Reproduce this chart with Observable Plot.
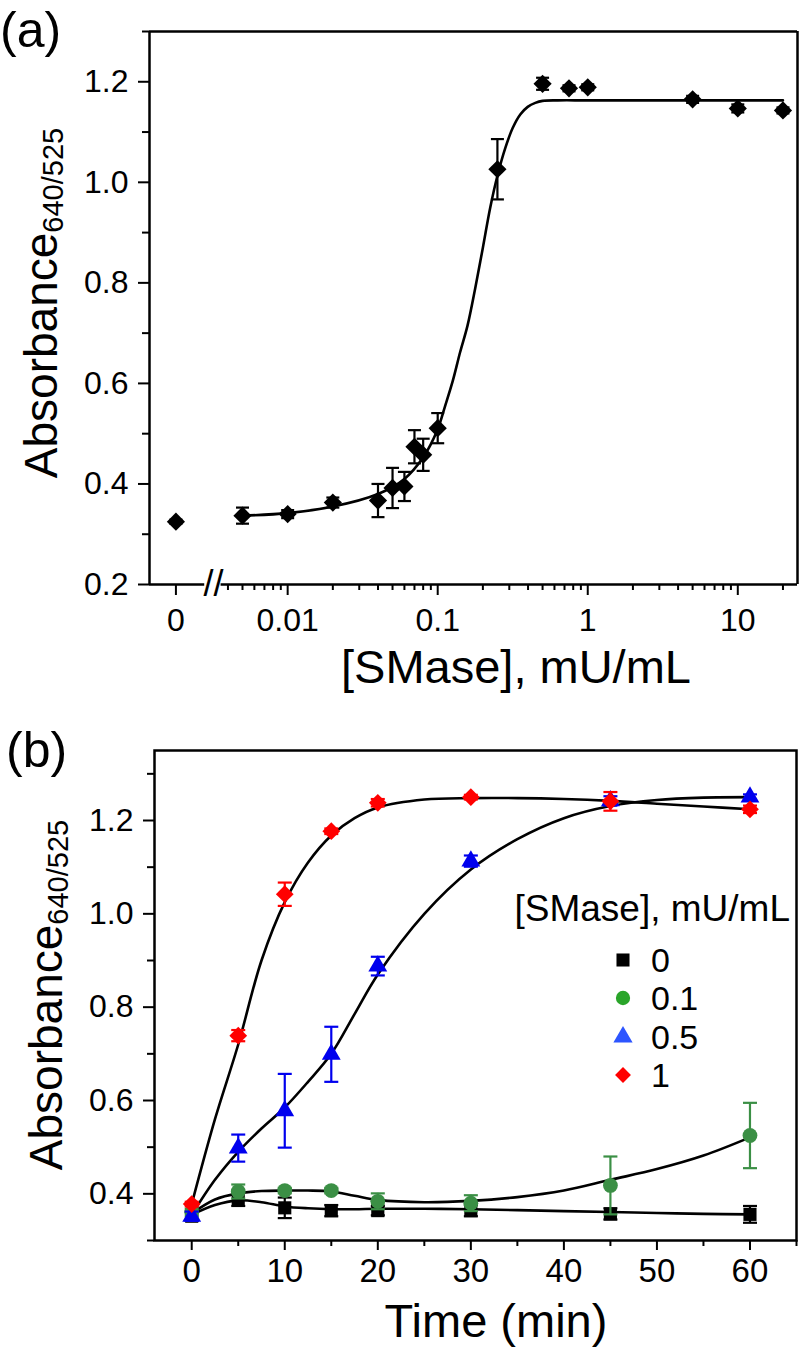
<!DOCTYPE html>
<html>
<head>
<meta charset="utf-8">
<script src="https://cdn.jsdelivr.net/npm/d3@7"></script>
<script src="https://cdn.jsdelivr.net/npm/@observablehq/plot@0.6"></script>
<style>
  html, body { margin: 0; padding: 0; background: #fff; overflow: hidden; }
  #wrap { width: 803px; }
  #wrap svg { display: block; }
</style>
</head>
<body>
<div id="wrap"></div>
<script>
// ---------------- Panel (a) data ----------------
const concA = [0, 0.005, 0.01, 0.02, 0.04, 0.05, 0.06, 0.07, 0.08, 0.1, 0.25, 0.5, 0.75, 1, 5, 10, 20];
const absA  = [0.325, 0.337, 0.340, 0.363, 0.367, 0.392, 0.395, 0.474, 0.458, 0.511, 1.026, 1.196, 1.187, 1.189, 1.165, 1.147, 1.143];
const errA  = [0.004, 0.016, 0.008, 0.010, 0.033, 0.040, 0.029, 0.033, 0.032, 0.030, 0.060, 0.012, 0.006, 0.006, 0.007, 0.008, 0.006];
// fitted curve
const fitConcA = [0.005, 0.01, 0.02, 0.04, 0.06, 0.08, 0.1, 0.112, 0.126, 0.141, 0.158, 0.178, 0.2, 0.224, 0.251, 0.282, 0.316, 0.355, 0.398, 0.447, 0.5, 0.63, 1, 5, 20];
const fitAbsA  = [0.337, 0.342, 0.355, 0.380, 0.410, 0.453, 0.509, 0.555, 0.605, 0.662, 0.715, 0.790, 0.870, 0.950, 1.015, 1.068, 1.108, 1.135, 1.150, 1.158, 1.162, 1.163, 1.163, 1.163, 1.163];
const xTicksA = [0, 0.01, 0.1, 1, 10];
const xTickLabelsA = ["0", "0.01", "0.1", "1", "10"];
const yTicksA = [0.2, 0.4, 0.6, 0.8, 1.0, 1.2];
const yTickLabelsA = ["0.2", "0.4", "0.6", "0.8", "1.0", "1.2"];
const yMinorA = [0.3, 0.5, 0.7, 0.9, 1.1, 1.3];

// ---------------- Panel (b) data ----------------
const times = [0, 5, 10, 15, 20, 30, 45, 60];
const seriesNames = ["0", "0.1", "0.5", "1"];
const abs0  = [0.352, 0.389, 0.370, 0.364, 0.364, 0.364, 0.357, 0.356];
const err0  = [0.010, 0.015, 0.022, 0.012, 0.010, 0.012, 0.012, 0.018];
const abs01 = [0.360, 0.405, 0.407, 0.407, 0.384, 0.380, 0.418, 0.525];
const err01 = [0.008, 0.015, 0.006, 0.006, 0.017, 0.017, 0.062, 0.070];
const abs05 = [0.352, 0.498, 0.578, 0.699, 0.888, 1.113, 1.242, 1.250];
const err05 = [0.010, 0.029, 0.079, 0.059, 0.020, 0.012, 0.010, 0.006];
const abs1  = [0.378, 0.739, 1.042, 1.177, 1.238, 1.250, 1.241, 1.224];
const err1  = [0.005, 0.012, 0.025, 0.006, 0.008, 0.005, 0.020, 0.008];
// fitted curves
const fitTimes = [0, 2.5, 5, 7.5, 10, 12.5, 15, 17.5, 20, 25, 30, 35, 40, 45, 50, 55, 60];
const fit0  = [0.355, 0.376, 0.386, 0.382, 0.373, 0.369, 0.367, 0.367, 0.368, 0.368, 0.367, 0.365, 0.363, 0.361, 0.359, 0.357, 0.356];
const fit01 = [0.358, 0.388, 0.401, 0.406, 0.407, 0.407, 0.405, 0.396, 0.387, 0.382, 0.385, 0.393, 0.407, 0.430, 0.453, 0.482, 0.521];
const fit05 = [0.355, 0.430, 0.490, 0.540, 0.585, 0.640, 0.700, 0.785, 0.870, 1.000, 1.095, 1.160, 1.205, 1.231, 1.244, 1.249, 1.250];
const fit1  = [0.378, 0.560, 0.720, 0.900, 1.025, 1.110, 1.168, 1.205, 1.228, 1.245, 1.248, 1.248, 1.246, 1.242, 1.236, 1.230, 1.224];
const xTicksB = [0, 10, 20, 30, 40, 50, 60];
const xTickLabelsB = ["0", "10", "20", "30", "40", "50", "60"];
const xMinorB = [5, 15, 25, 35, 45, 55, 65];
const yTicksB = [0.4, 0.6, 0.8, 1.0, 1.2];
const yTickLabelsB = ["0.4", "0.6", "0.8", "1.0", "1.2"];
const yMinorB = [0.3, 0.5, 0.7, 0.9, 1.1, 1.3];

// ---------------- styling ----------------
const FONT = "'Liberation Sans', Arial, Helvetica, sans-serif";
const seriesColors = ["#000000", "#3b8f45", "#0000ee", "#ff0000"];
const legendColors = ["#000000", "#2aa52a", "#2d55ff", "#ff0000"];
const seriesSymbols = ["square", "circle", "triangle", "diamond2"];
const seriesR = [7.4, 7.4, 7, 8];
const capSymbol = { draw(ctx, size) { const h = Math.sqrt(size / Math.PI); ctx.moveTo(-h, 0); ctx.lineTo(h, 0); } };

const wrap = document.getElementById("wrap");

// ================= Panel (a) =================
const xMinA = 0.0012, xMaxA = 25;
const zeroPos = 0.0018;          // where the "0" category sits left of the axis break
const breakLeft = 0.0028, breakMid = 0.0032, breakRight = 0.0036;
const xTickPosA = xTicksA.map(v => v === 0 ? zeroPos : v);
const xMinorA = [];
for (const dec of [0.001, 0.01, 0.1, 1]) for (let k = 2; k <= 9; k++) { const v = +(k * dec).toPrecision(3); if (v >= 0.004) xMinorA.push(v); }
xMinorA.push(20);

const rowsA = concA.map((c, i) => ({ x: c === 0 ? zeroPos : c, y: absA[i], e: errA[i] }));
const fitRowsA = fitConcA.map((c, i) => ({ x: c, y: fitAbsA[i] }));

const plotA = Plot.plot({
  width: 803, height: 680,
  marginLeft: 149, marginRight: 6, marginTop: 31, marginBottom: 96,
  x: { type: "log", domain: [xMinA, xMaxA] },
  y: { domain: [0.2, 1.3] },
  style: { fontFamily: FONT, fontSize: "32px", color: "#000", background: "#fff", overflow: "visible" },
  marks: [
    Plot.line(fitRowsA, { x: "x", y: "y", curve: "catmull-rom", stroke: "#000", strokeWidth: 2.6 }),
    Plot.ruleX(rowsA, { x: "x", y1: d => d.y - d.e, y2: d => d.y + d.e, stroke: "#000", strokeWidth: 2.2 }),
    Plot.dot(rowsA, { x: "x", y: d => d.y + d.e, symbol: capSymbol, r: 6.5, stroke: "#000", strokeWidth: 2.2, fill: "none" }),
    Plot.dot(rowsA, { x: "x", y: d => d.y - d.e, symbol: capSymbol, r: 6.5, stroke: "#000", strokeWidth: 2.2, fill: "none" }),
    Plot.dot(rowsA, { x: "x", y: "y", symbol: "diamond2", r: 8.2, fill: "#000", stroke: "none" }),
    // box
    Plot.ruleX([xMinA], { stroke: "#000", strokeWidth: 2.5 }),
    Plot.ruleX([xMaxA], { stroke: "#000", strokeWidth: 2.5 }),
    Plot.ruleY([1.3], { stroke: "#000", strokeWidth: 2.5 }),
    Plot.ruleY([{ a: xMinA, b: breakLeft }], { y: () => 0.2, x1: "a", x2: "b", stroke: "#000", strokeWidth: 2.5 }),
    Plot.ruleY([{ a: breakRight, b: xMaxA }], { y: () => 0.2, x1: "a", x2: "b", stroke: "#000", strokeWidth: 2.5 }),
    Plot.text(["//"], { x: () => breakMid, y: () => 0.2, text: d => d, fontSize: 36, fill: "#000" }),
    // axes
    Plot.axisX({ ticks: xTickPosA, tickSize: 11, tickPadding: 13, strokeWidth: 2, label: null,
      tickFormat: d => xTickLabelsA[xTickPosA.indexOf(d)], fontSize: 32 }),
    Plot.axisX({ ticks: xMinorA, tickSize: 6, strokeWidth: 2, label: null, tickFormat: () => "" }),
    Plot.axisY({ ticks: yTicksA, tickSize: 11, tickPadding: 10, strokeWidth: 2, label: null,
      tickFormat: d => yTickLabelsA[yTicksA.findIndex(t => Math.abs(t - d) < 1e-9)], fontSize: 32 }),
    Plot.axisY({ ticks: yMinorA, tickSize: 7, strokeWidth: 2, label: null, tickFormat: () => "" })
  ]
});
wrap.appendChild(plotA);

// ================= Panel (b) =================
const absB = [abs0, abs01, abs05, abs1];
const errB = [err0, err01, err05, err1];
const fitB = [fit0, fit01, fit05, fit1];
const rowsB = [];
seriesNames.forEach((s, k) => times.forEach((t, i) => rowsB.push({ s, k, x: t, y: absB[k][i], e: errB[k][i] })));
const fitRowsB = [];
seriesNames.forEach((s, k) => fitTimes.forEach((t, i) => fitRowsB.push({ s, k, x: t, y: fitB[k][i] })));

const seriesMarks = [];
seriesNames.forEach((s, k) => {
  const rows = rowsB.filter(d => d.k === k);
  const c = seriesColors[k];
  seriesMarks.push(
    Plot.ruleX(rows, { x: "x", y1: d => d.y - d.e, y2: d => d.y + d.e, stroke: c, strokeWidth: 2.2 }),
    Plot.dot(rows, { x: "x", y: d => d.y + d.e, symbol: capSymbol, r: 7, stroke: c, strokeWidth: 2.2, fill: "none" }),
    Plot.dot(rows, { x: "x", y: d => d.y - d.e, symbol: capSymbol, r: 7, stroke: c, strokeWidth: 2.2, fill: "none" }),
    Plot.dot(rows, { x: "x", y: "y", symbol: seriesSymbols[k], r: seriesR[k], fill: c, stroke: "none" })
  );
});

const plotB = Plot.plot({
  width: 803, height: 667,
  marginLeft: 154, marginRight: 7, marginTop: 70, marginBottom: 107,
  x: { domain: [-4, 65] },
  y: { domain: [0.3, 1.35] },
  style: { fontFamily: FONT, fontSize: "33px", color: "#000", background: "#fff", overflow: "visible" },
  marks: [
    Plot.line(fitRowsB, { x: "x", y: "y", z: "s", curve: "catmull-rom", stroke: "#000", strokeWidth: 2.6 }),
    ...seriesMarks,
    Plot.frame({ stroke: "#000", strokeWidth: 2.5 }),
    Plot.axisX({ ticks: xTicksB, tickSize: 10, tickPadding: 8, strokeWidth: 2, label: null,
      tickFormat: d => xTickLabelsB[xTicksB.indexOf(d)], fontSize: 33 }),
    Plot.axisX({ ticks: xMinorB, tickSize: 6, strokeWidth: 2, label: null, tickFormat: () => "" }),
    Plot.axisY({ ticks: yTicksB, tickSize: 11, tickPadding: 10, strokeWidth: 2, label: null,
      tickFormat: d => yTickLabelsB[yTicksB.findIndex(t => Math.abs(t - d) < 1e-9)], fontSize: 32 }),
    Plot.axisY({ ticks: yMinorB, tickSize: 7, strokeWidth: 2, label: null, tickFormat: () => "" })
  ]
});
wrap.appendChild(plotB);

// ================= titles, panel letters, legend =================
function addText(svg, txt, x, y, size, anchor) {
  return d3.select(svg).append("text")
    .attr("x", x).attr("y", y)
    .attr("font-family", FONT).attr("font-size", size)
    .attr("text-anchor", anchor || "start").attr("fill", "#000")
    .text(txt);
}
function addYTitle(svg, cx, cy) {
  const t = d3.select(svg).append("text")
    .attr("transform", `translate(${cx},${cy}) rotate(-90)`)
    .attr("font-family", FONT).attr("font-size", 46)
    .attr("text-anchor", "middle").attr("fill", "#000");
  t.append("tspan").text("Absorbance");
  t.append("tspan").attr("font-size", 29).attr("dy", "0.22em").text("640/525");
}

addText(plotA, "(a)", 0, 47, 50);
addText(plotA, "[SMase], mU/mL", 516, 683, 47, "middle");
addYTitle(plotA, 57, 303);

addText(plotB, "(b)", 6, 87, 50);
addText(plotB, "Time (min)", 496, 657, 47, "middle");
addYTitle(plotB, 62, 315);

// legend
addText(plotB, "[SMase], mU/mL", 790, 241, 37, "end");
const legendY = [280, 318, 357, 395];
const d3Symbols = { square: d3.symbolSquare, circle: d3.symbolCircle, triangle: d3.symbolTriangle, diamond2: d3.symbolDiamond2 };
const legendSizes = [170, 160, 160, 160];
seriesNames.forEach((s, k) => {
  d3.select(plotB).append("path")
    .attr("transform", `translate(623,${legendY[k]})`)
    .attr("d", d3.symbol(d3Symbols[seriesSymbols[k]], legendSizes[k])())
    .attr("fill", legendColors[k]);
  addText(plotB, s, 651, legendY[k] + 12, 34);
});
</script>
</body>
</html>
